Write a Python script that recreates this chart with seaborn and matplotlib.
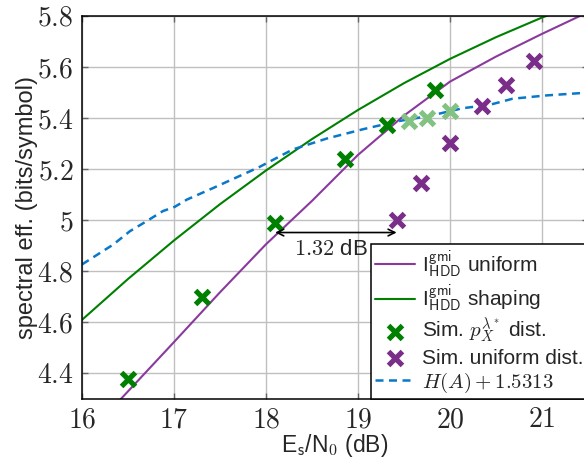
import numpy as np
import pandas as pd
import matplotlib
matplotlib.use('Agg')
import matplotlib.pyplot as plt
import seaborn as sns
from matplotlib.ticker import FuncFormatter

# I_HDD^gmi, uniform signalling
snr_uniform = [16.3, 16.5, 17.0, 17.5, 18.0, 18.5, 19.0, 19.5, 20.0, 20.5, 21.0, 21.5]
gmi_uniform = [4.253, 4.330, 4.523, 4.718, 4.906, 5.076, 5.256, 5.410, 5.543, 5.641, 5.730, 5.815]

# I_HDD^gmi, with shaping
snr_shaping = [16.0, 16.5, 17.0, 17.5, 18.0, 18.5, 19.0, 19.5, 20.0, 20.5, 21.0, 21.5]
gmi_shaping = [4.610, 4.770, 4.921, 5.063, 5.195, 5.318, 5.432, 5.537, 5.632, 5.717, 5.794, 5.861]

# H(A) + 1.5313
snr_entropy = [16.0, 16.34, 16.52, 16.70, 16.88, 17.01, 17.14, 17.43, 17.79, 17.93, 18.29, 18.66,
               19.06, 19.42, 19.78, 20.14, 20.43, 20.68, 21.05, 21.5]
entropy = [4.827, 4.905, 4.957, 4.996, 5.036, 5.053, 5.081, 5.127, 5.186, 5.209, 5.277, 5.320,
           5.357, 5.387, 5.409, 5.439, 5.452, 5.476, 5.489, 5.500]

# simulations
snr_sim_shaped = [16.50, 17.30, 18.10, 18.86, 19.32, 19.84]
se_sim_shaped = [4.38, 4.70, 4.99, 5.24, 5.374, 5.51]
snr_sim_faded = [19.55, 19.75, 20.00]
se_sim_faded = [5.387, 5.40, 5.426]
snr_sim_uniform = [19.42, 19.68, 20.00, 20.35, 20.61, 20.91]
se_sim_uniform = [5.00, 5.144, 5.303, 5.446, 5.530, 5.625]

purple = '#8a3a9c'
purple_m = '#7a2e8a'
green = '#008000'
light_green = '#82c282'
blue = '#0a78c8'

sns.set_style('ticks')
plt.rcParams['font.family'] = ['Liberation Sans', 'DejaVu Sans']
plt.rcParams['mathtext.fontset'] = 'cm'

fig = plt.figure(figsize=(5.84, 4.58), dpi=100)
ax = fig.add_axes([82 / 584, 59 / 458, (588 - 82) / 584, (399 - 16) / 458])

sns.lineplot(x=snr_uniform, y=gmi_uniform, color=purple, lw=1.5, ax=ax,
             label=r'I$^{\mathsf{gmi}}_{\mathsf{HDD}}$ uniform')
sns.lineplot(x=snr_shaping, y=gmi_shaping, color=green, lw=1.5, ax=ax,
             label=r'I$^{\mathsf{gmi}}_{\mathsf{HDD}}$ shaping')
sns.scatterplot(x=snr_sim_shaped, y=se_sim_shaped, marker='x', s=100, linewidth=3.7,
                color=green, ax=ax, label=r'Sim. $p_X^{\lambda^*}$ dist.', zorder=5)
sns.scatterplot(x=snr_sim_uniform, y=se_sim_uniform, marker='x', s=100, linewidth=3.7,
                color=purple_m, ax=ax, label='Sim. uniform dist.', zorder=5)
sns.lineplot(x=snr_entropy, y=entropy, color=blue, lw=1.8, ax=ax,
             label=r'$H(A) + 1.5313$', dashes=False)
ax.lines[-1].set_dashes([3.2, 2.2])
sns.scatterplot(x=snr_sim_faded, y=se_sim_faded, marker='x', s=100, linewidth=3.7,
                color=light_green, ax=ax, legend=False, zorder=6)

ax.annotate('', xy=(18.10, 4.952), xytext=(19.42, 4.952),
            arrowprops=dict(arrowstyle='<->', color='black', lw=1.2, shrinkA=0, shrinkB=0,
                            mutation_scale=12), zorder=8)
ax.text(18.70, 4.885, r'$1.32$ dB', ha='center', va='center', fontsize=16, zorder=8)

ax.set_xlim(16, 21.5)
ax.set_ylim(4.3, 5.8)
ax.set_xticks([16, 17, 18, 19, 20, 21])
ax.set_yticks([4.4, 4.6, 4.8, 5.0, 5.2, 5.4, 5.6, 5.8])
fmt = FuncFormatter(lambda v, p: r'$%g$' % round(v, 2))
ax.xaxis.set_major_formatter(fmt)
ax.yaxis.set_major_formatter(fmt)
ax.tick_params(direction='in', top=True, right=True, length=4, width=1, color='0.4',
               labelsize=20, pad=6)
ax.grid(True, color='#c0c0c0', lw=1)
for s in ax.spines.values():
    s.set_color('black')
    s.set_linewidth(1.1)

ax.set_xlabel(r'E$_\mathsf{s}$/N$_\mathsf{0}$ (dB)', fontsize=16.5, labelpad=-1)
ax.set_ylabel('spectral eff. (bits/symbol)', fontsize=17, labelpad=-1)

leg = ax.legend(loc='lower right', bbox_to_anchor=(1, 0), borderaxespad=0, fontsize=15,
                frameon=True, fancybox=False, framealpha=1, edgecolor='black',
                handlelength=1.9, handletextpad=0.35, labelspacing=0.15, borderpad=0.2)
leg.get_frame().set_linewidth(1.1)
leg.set_zorder(7)

fig.savefig('out.png', dpi=100)
